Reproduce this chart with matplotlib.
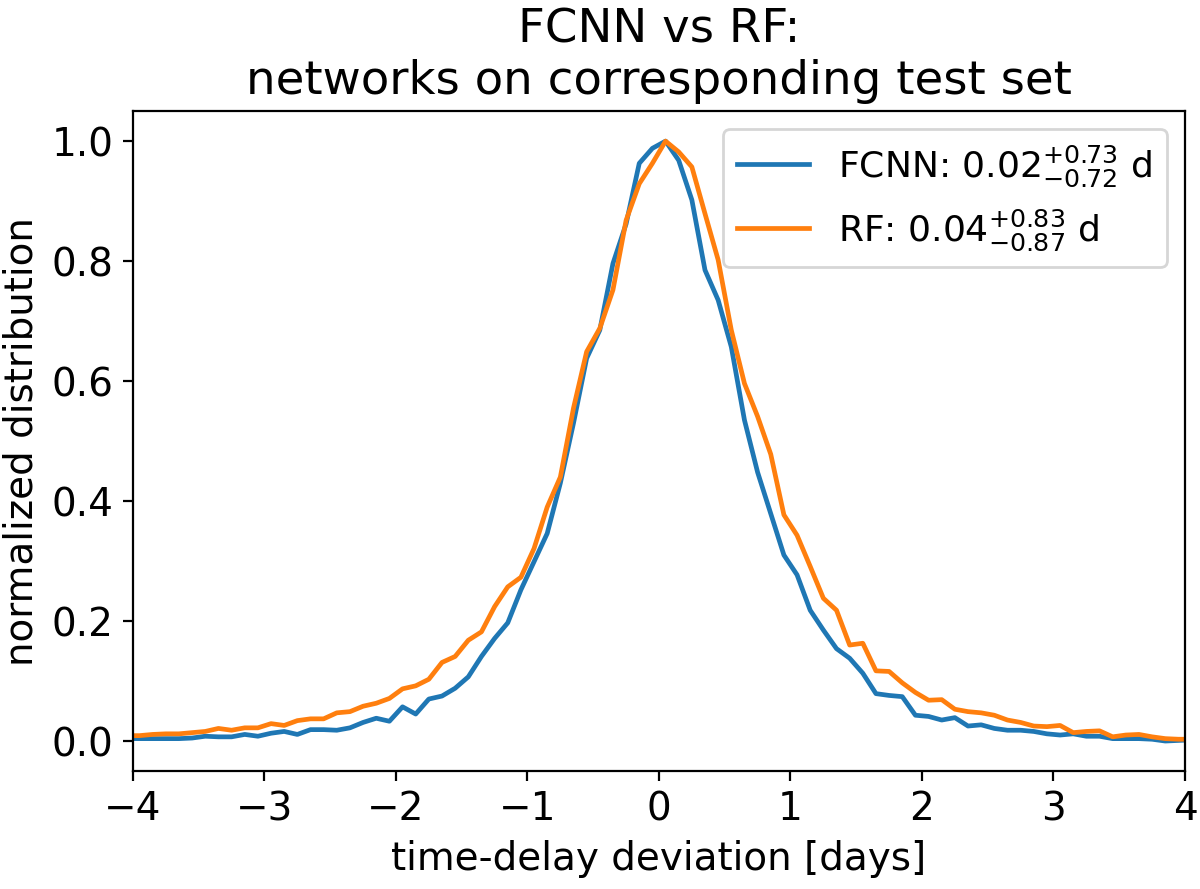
import numpy as np
import matplotlib
matplotlib.use("Agg")
import matplotlib.pyplot as plt

# ── Data (bin centres in days) ─────────────────────────────────────────────
delay_bins = [
    -4.05, -3.95, -3.85, -3.75, -3.65, -3.55, -3.45, -3.35, -3.25, -3.15,
    -3.05, -2.95, -2.85, -2.75, -2.65, -2.55, -2.45, -2.35, -2.25, -2.15,
    -2.05, -1.95, -1.85, -1.75, -1.65, -1.55, -1.45, -1.35, -1.25, -1.15,
    -1.05, -0.95, -0.85, -0.75, -0.65, -0.55, -0.45, -0.35, -0.25, -0.15,
    -0.05, 0.05, 0.15, 0.25, 0.35, 0.45, 0.55, 0.65, 0.75, 0.85,
    0.95, 1.05, 1.15, 1.25, 1.35, 1.45, 1.55, 1.65, 1.75, 1.85,
    1.95, 2.05, 2.15, 2.25, 2.35, 2.45, 2.55, 2.65, 2.75, 2.85,
    2.95, 3.05, 3.15, 3.25, 3.35, 3.45, 3.55, 3.65, 3.75, 3.85,
    3.95, 4.05,
]

fcnn_dist = [
    0.004, 0.004, 0.004, 0.004, 0.004, 0.005, 0.008, 0.007, 0.007, 0.011,
    0.008, 0.013, 0.016, 0.011, 0.019, 0.019, 0.018, 0.022, 0.031, 0.038,
    0.033, 0.057, 0.045, 0.070, 0.075, 0.088, 0.107, 0.141, 0.171, 0.197,
    0.252, 0.299, 0.346, 0.430, 0.530, 0.638, 0.685, 0.796, 0.862, 0.963,
    0.988, 1.000, 0.968, 0.902, 0.785, 0.735, 0.657, 0.535, 0.448, 0.379,
    0.310, 0.277, 0.218, 0.185, 0.154, 0.138, 0.113, 0.079, 0.076, 0.074,
    0.043, 0.041, 0.035, 0.039, 0.025, 0.027, 0.021, 0.018, 0.018, 0.016,
    0.012, 0.010, 0.012, 0.008, 0.008, 0.004, 0.004, 0.004, 0.003, 0.000,
    0.001, 0.002,
]

rf_dist = [
    0.009, 0.009, 0.011, 0.012, 0.012, 0.014, 0.016, 0.021, 0.018, 0.022,
    0.022, 0.029, 0.026, 0.034, 0.037, 0.037, 0.047, 0.049, 0.058, 0.063,
    0.071, 0.087, 0.092, 0.103, 0.131, 0.141, 0.168, 0.182, 0.224, 0.257,
    0.273, 0.321, 0.390, 0.440, 0.555, 0.649, 0.688, 0.752, 0.868, 0.929,
    0.963, 1.000, 0.982, 0.957, 0.879, 0.802, 0.685, 0.596, 0.541, 0.478,
    0.377, 0.343, 0.291, 0.238, 0.218, 0.160, 0.163, 0.117, 0.116, 0.097,
    0.081, 0.068, 0.069, 0.053, 0.049, 0.047, 0.043, 0.035, 0.031, 0.025,
    0.024, 0.026, 0.014, 0.016, 0.017, 0.007, 0.010, 0.011, 0.007, 0.004,
    0.003, 0.003,
]

fcnn_label = r"FCNN: $0.02^{+0.73}_{-0.72}$ d"
rf_label = r"RF: $0.04^{+0.83}_{-0.87}$ d"

# ── Plot ───────────────────────────────────────────────────────────────────
plt.rcParams["font.size"] = 14

fig = plt.figure(figsize=(6, 4.445), dpi=200)
ax = fig.add_axes([0.1108, 0.1327, 0.8767, 0.7423])

ax.plot(delay_bins, fcnn_dist, color="tab:blue", lw=1.7, label=fcnn_label)
ax.plot(delay_bins, rf_dist, color="tab:orange", lw=1.7, label=rf_label)

ax.set_xlim(-4, 4)
ax.set_ylim(-0.05, 1.05)
ax.set_xlabel("time-delay deviation [days]")
ax.set_ylabel("normalized distribution")
ax.set_title("FCNN vs RF:\nnetworks on corresponding test set")
ax.legend(loc="upper right", fontsize=13)

fig.savefig("out.png", dpi=200)
